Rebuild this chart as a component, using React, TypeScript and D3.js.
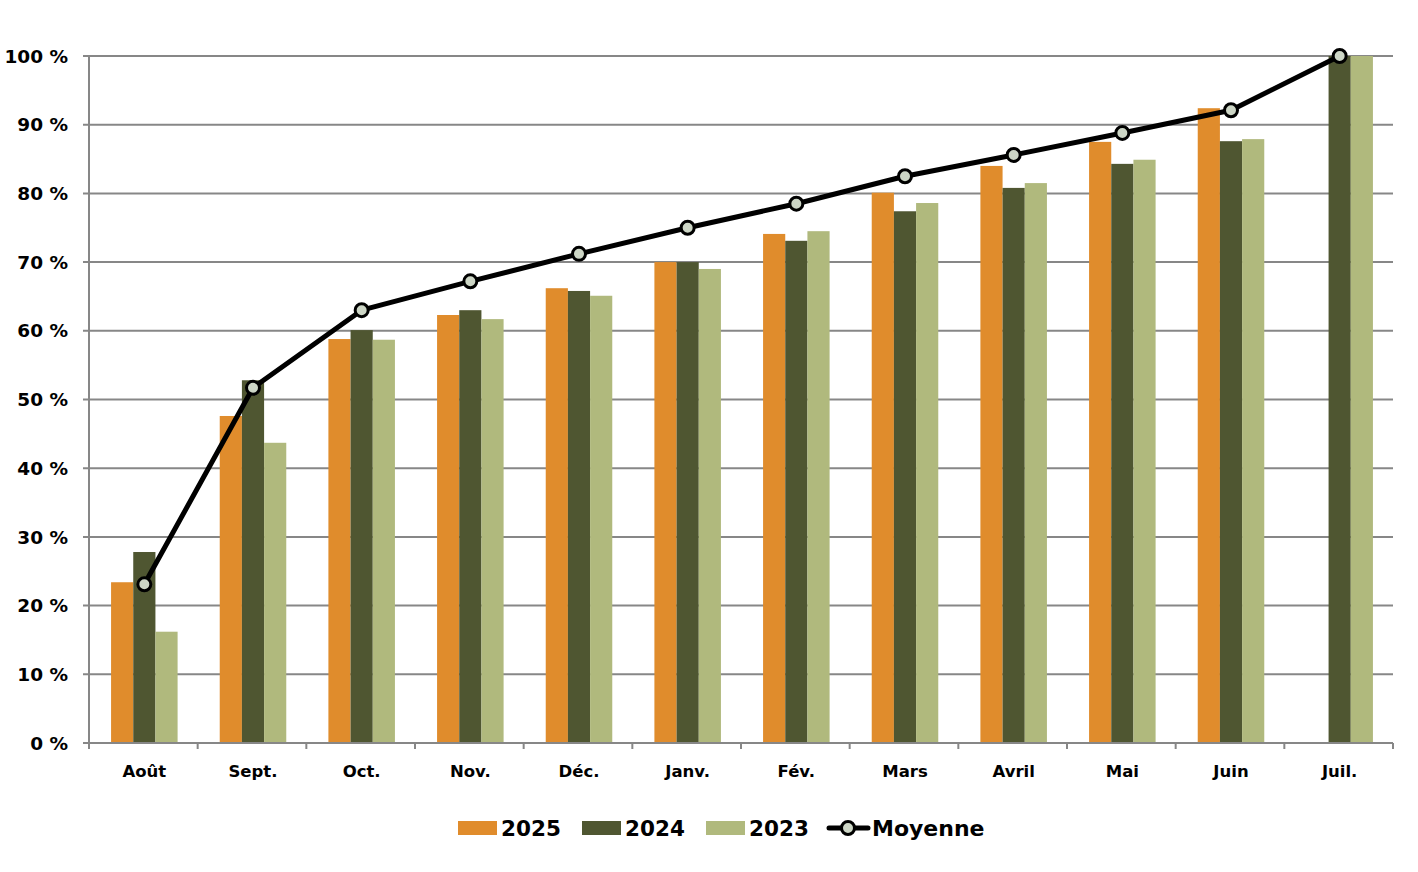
import { useEffect, useRef } from 'react';
import * as d3 from 'd3';

const months = ['Août', 'Sept.', 'Oct.', 'Nov.', 'Déc.', 'Janv.', 'Fév.', 'Mars', 'Avril', 'Mai', 'Juin', 'Juil.'];
const series2025 = [23.4, 47.6, 58.8, 62.3, 66.2, 70.0, 74.1, 80.1, 84.0, 87.5, 92.4, null];
const series2024 = [27.8, 52.8, 60.1, 63.0, 65.8, 70.0, 73.1, 77.4, 80.8, 84.3, 87.6, 100];
const series2023 = [16.2, 43.7, 58.7, 61.7, 65.1, 69.0, 74.5, 78.6, 81.5, 84.9, 87.9, 100];
const moyenne = [23.1, 51.7, 63.0, 67.2, 71.2, 75.0, 78.5, 82.5, 85.6, 88.8, 92.1, 100];
const yTicks = [0, 10, 20, 30, 40, 50, 60, 70, 80, 90, 100];

const seriesNames = ['2025', '2024', '2023'];
const colors = ['#E08C2C', '#4F5631', '#B0B97D'];

const FONT = '"DejaVu Sans", sans-serif';

export default function App() {
  const svgRef = useRef<SVGSVGElement>(null);

  useEffect(() => {
    if (!svgRef.current) return;
    const svg = d3.select(svgRef.current);
    svg.selectAll('*').remove();

    const left = 89, right = 1393, top = 56, bottom = 743;

    const x = d3.scaleBand().domain(months).range([left, right]).paddingInner(0).paddingOuter(0);
    const xs = d3.scaleBand().domain(seriesNames).range([1, x.bandwidth() + 1]).paddingInner(0).paddingOuter(0.95);
    const y = d3.scaleLinear().domain([0, 100]).range([bottom, top]);

    // grid
    const grid = svg.append('g');
    grid.selectAll('line').data(yTicks).enter().append('line')
      .attr('x1', left - 6).attr('x2', right)
      .attr('y1', d => y(d)).attr('y2', d => y(d))
      .attr('stroke', '#878787').attr('stroke-width', 2);

    // y labels
    svg.append('g').selectAll('text').data(yTicks).enter().append('text')
      .attr('x', 68).attr('y', d => y(d)).attr('dy', '0.36em')
      .attr('text-anchor', 'end')
      .attr('font-family', FONT).attr('font-weight', 'bold').attr('font-size', 18.5)
      .attr('fill', '#000')
      .text(d => `${d} %`);

    // bars
    const all = [series2025, series2024, series2023];
    all.forEach((vals, si) => {
      svg.append('g').selectAll('rect')
        .data(vals.map((v, i) => ({ v, m: months[i] })).filter(d => d.v !== null))
        .enter().append('rect')
        .attr('x', d => x(d.m)! + xs(seriesNames[si])!)
        .attr('y', d => y(d.v as number))
        .attr('width', xs.bandwidth())
        .attr('height', d => bottom - y(d.v as number))
        .attr('fill', colors[si]);
    });

    // axes lines
    svg.append('line').attr('x1', left).attr('x2', left).attr('y1', top).attr('y2', bottom)
      .attr('stroke', '#878787').attr('stroke-width', 2);
    svg.append('line').attr('x1', left - 6).attr('x2', right).attr('y1', bottom).attr('y2', bottom)
      .attr('stroke', '#878787').attr('stroke-width', 2);
    const xTickPos = months.map(m => x(m)!).concat([right]);
    svg.append('g').selectAll('line').data(xTickPos).enter().append('line')
      .attr('x1', d => d).attr('x2', d => d).attr('y1', bottom).attr('y2', bottom + 6)
      .attr('stroke', '#878787').attr('stroke-width', 2);

    // x labels
    svg.append('g').selectAll('text').data(months).enter().append('text')
      .attr('x', d => x(d)! + x.bandwidth() / 2 + 1).attr('y', 777)
      .attr('text-anchor', 'middle')
      .attr('font-family', FONT).attr('font-weight', 'bold').attr('font-size', 16.5)
      .attr('fill', '#000')
      .text(d => d);

    // line
    const cx = (i: number) => x(months[i])! + x.bandwidth() / 2 + 1;
    const line = d3.line<number>().x((_, i) => cx(i)).y(d => y(d));
    svg.append('path').datum(moyenne)
      .attr('d', line).attr('fill', 'none').attr('stroke', '#000').attr('stroke-width', 5)
      .attr('stroke-linejoin', 'round');
    svg.append('g').selectAll('circle').data(moyenne).enter().append('circle')
      .attr('cx', (_, i) => cx(i)).attr('cy', d => y(d)).attr('r', 6.5)
      .attr('fill', '#CDD6C6').attr('stroke', '#000').attr('stroke-width', 3);

    // legend
    const leg = svg.append('g');
    const legX = [458, 582, 706];
    seriesNames.forEach((name, i) => {
      leg.append('rect').attr('x', legX[i]).attr('y', 821).attr('width', 39).attr('height', 14).attr('fill', colors[i]);
      leg.append('text').attr('x', legX[i] + 43).attr('y', 836)
        .attr('font-family', FONT).attr('font-weight', 'bold').attr('font-size', 21.5)
        .attr('fill', '#000').text(name);
    });
    leg.append('line').attr('x1', 829).attr('x2', 868).attr('y1', 828).attr('y2', 828)
      .attr('stroke', '#000').attr('stroke-width', 5).attr('stroke-linecap', 'round');
    leg.append('circle').attr('cx', 848).attr('cy', 828).attr('r', 6.5)
      .attr('fill', '#CDD6C6').attr('stroke', '#000').attr('stroke-width', 3);
    leg.append('text').attr('x', 872).attr('y', 836)
      .attr('font-family', FONT).attr('font-weight', 'bold').attr('font-size', 22)
      .attr('fill', '#000').text('Moyenne');
  }, []);

  return (
    <svg ref={svgRef} width={1418} height={872}
      style={{ position: 'fixed', left: 0, top: 0, background: '#fff' }} />
  );
}
